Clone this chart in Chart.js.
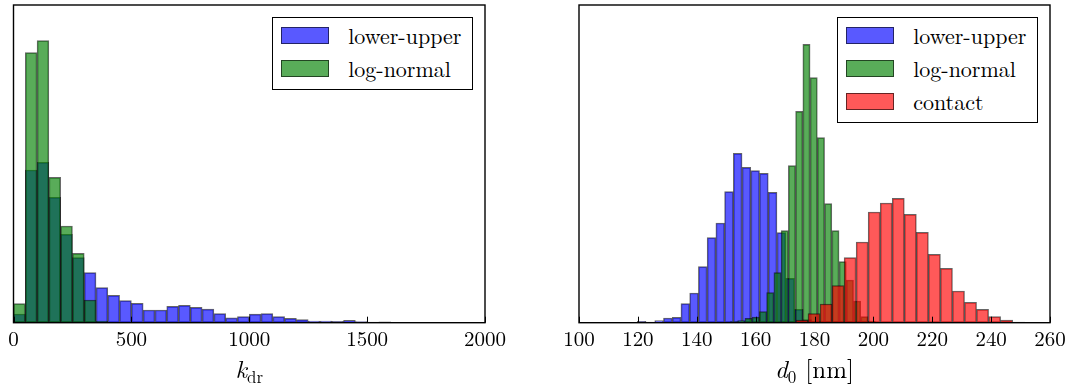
<!DOCTYPE html>
<html>
<head>
<meta charset="utf-8">
<script src="https://cdn.jsdelivr.net/npm/chart.js@4.4.1/dist/chart.umd.min.js"></script>
<style>
  html, body { margin: 0; padding: 0; background: #fff; }
  #wrap { position: relative; width: 1077px; height: 387px; overflow: hidden; }
  canvas { position: absolute; top: 0; }
  .legend { position: absolute; border: 1.3px solid #000; background: #fff; box-sizing: border-box; }
  .patch { position: absolute; box-sizing: border-box; border: 1px solid rgba(0,0,0,0.6); }
  .serif { font-family: "CMU Serif", "Latin Modern Roman", "Liberation Serif", "Tinos", "Times New Roman", "Times", "Nimbus Roman", "Nimbus Roman No9 L", "FreeSerif", "DejaVu Serif", "Noto Serif", "Bitstream Vera Serif", serif; }
  .ltxt { position: absolute; font-size: 22px; line-height: 22px; white-space: nowrap; color: #000; }
  .xtitle { position: absolute; font-size: 25px; line-height: 25px; text-align: center; color: #000; white-space: nowrap; }
  .xtitle i { font-style: italic; }
  .xtitle .sb { font-size: 17px; line-height: 0; vertical-align: -5px; }
</style>
</head>
<body>
<div id="wrap">
  <canvas id="c1" width="540" height="387" style="left:0px"></canvas>
  <canvas id="c2" width="537" height="387" style="left:540px"></canvas>
  <div class="xtitle serif" style="left:13.5px; width:471.5px; top:355px;"><i>k</i><span class="sb">dr</span></div>
  <div class="xtitle serif" style="left:579px; width:471px; top:355px;"><i>d</i><span class="sb">0</span><span style="margin-left:9px">[nm]</span></div>
</div>
<script>
// ---------- Left panel: k_dr histogram (bin width 50) ----------
const kCenters = [25,75,125,175,225,275,325,375,425,475,525,575,625,675,725,775,825,875,925,975,1025,1075,1125,1175,1225,1275,1325,1375,1425,1475,1525,1575,1625];
const kLowerUpper = [8.7,152.7,160.4,125.4,88.4,65,50,35,27.4,22,19.4,12.7,12.7,16.4,17.4,15.4,13.5,9,4.8,6,8.5,9,6,4.3,3,1.6,1.6,1.3,2.3,1,0.6,0.8,0.4];
const kLogNormalCenters = [25,75,125,175,225,275,325,375];
const kLogNormal = [19,270,282,145.4,96.7,69.4,22.7,1.5];
const kTicks = [0,500,1000,1500,2000];

// ---------- Right panel: d0 histogram ----------
const dBlueCenters = [121.28,124.25,127.21,130.18,133.15,136.11,139.08,142.04,145.01,147.98,150.94,153.91,156.87,159.84,162.81,165.77,168.74,171.70,174.67,177.64,180.60];
const dLowerUpper = [1.3,0.7,2,4.7,5.3,19,29.7,56,85,99.7,131,169.4,155.4,152,149.4,130.4,90,44.4,13.4,3,1];
const dGreenCenters = [150.21,152.67,155.13,157.59,160.05,162.51,164.97,167.43,169.89,172.35,174.81,177.27,179.73,182.19,184.65,187.11,189.57,192.03,194.49,196.95,199.41];
const dLogNormal = [0.5,1,2,4.4,5.5,11,30,50,92,157,211.4,278.4,245,185,119,92,61,42.7,21.7,6,1.5];
const dRedCenters = [171.65,175.74,179.83,183.92,188.01,192.10,196.19,200.28,204.37,208.46,212.55,216.64,220.73,224.82,228.91,233.00,237.09,241.18,245.27,249.36];
const dContact = [0.5,2.7,9,18.7,37,65,80.7,110.7,119.7,124.4,108.4,90.4,68.4,54.4,31.7,20.4,13.4,6,2.7,0.7];
const dTicks = [100,120,140,160,180,200,220,240,260];

const labels = ['lower-upper', 'log-normal', 'contact'];
const fills = ['rgba(0,0,255,0.65)', 'rgba(0,128,0,0.65)', 'rgba(255,0,0,0.65)'];
const edge = 'rgba(0,0,0,0.6)';
const YMAX = 317.7;
const FONT = '"CMU Serif", "Latin Modern Roman", "Liberation Serif", "Tinos", "Times New Roman", "Times", "Nimbus Roman", "Nimbus Roman No9 L", "FreeSerif", "DejaVu Serif", "Noto Serif", "Bitstream Vera Serif", serif';

function pts(xs, ys) { return xs.map((x, i) => ({ x: x, y: ys[i] })); }

function ds(i, xs, ys, axisId, order) {
  return {
    label: labels[i], data: pts(xs, ys), xAxisID: axisId, yAxisID: 'y',
    backgroundColor: fills[i], borderColor: edge, borderWidth: 1, borderSkipped: false,
    barPercentage: 1, categoryPercentage: 1, grouped: false, order: order
  };
}

const framePlugin = {
  id: 'frame',
  afterDatasetsDraw(chart) {
    const { ctx, chartArea: a } = chart;
    const xs = chart.scales.x;
    ctx.save();
    ctx.strokeStyle = '#000';
    ctx.lineWidth = 1;
    xs.ticks.forEach(t => {
      const px = Math.round(xs.getPixelForValue(t.value)) + 0.5;
      ctx.beginPath();
      ctx.moveTo(px, a.bottom);
      ctx.lineTo(px, a.bottom - 6);
      ctx.stroke();
    });
    ctx.lineWidth = 1.4;
    ctx.strokeRect(a.left, a.top, a.width, a.height);
    ctx.restore();
  }
};

function visibleX(min, max, ticks) {
  return {
    type: 'linear', position: 'bottom', min: min, max: max, offset: false,
    grid: { display: false, drawTicks: false, offset: false },
    border: { display: false },
    afterBuildTicks: s => { s.ticks = ticks.map(v => ({ value: v })); },
    afterFit: s => { s.height = 387 - 322.7; },
    ticks: { color: '#000', padding: 4, maxRotation: 0, autoSkip: false,
             font: { family: FONT, size: 21 }, callback: v => String(v) }
  };
}
function hiddenX(min, max) {
  return {
    type: 'linear', display: false, min: min, max: max, offset: false,
    grid: { offset: false },
    afterBuildTicks: s => { s.ticks = [{ value: min }, { value: max }]; }
  };
}
const yScale = { type: 'linear', display: false, min: 0, max: YMAX };

function baseOptions(pad, scales) {
  return {
    responsive: false, animation: false, devicePixelRatio: 1,
    layout: { padding: pad },
    plugins: { legend: { display: false }, tooltip: { enabled: false } },
    scales: scales
  };
}

const chart1 = new Chart(document.getElementById('c1'), {
  type: 'bar',
  data: { datasets: [
    ds(0, kCenters, kLowerUpper, 'x', 2),
    ds(1, kLogNormalCenters, kLogNormal, 'x', 1)
  ] },
  options: baseOptions({ left: 13.5, top: 5, right: 55, bottom: 0 },
    { x: visibleX(0, 2000, kTicks), y: yScale }),
  plugins: [framePlugin]
});

const chart2 = new Chart(document.getElementById('c2'), {
  type: 'bar',
  data: { datasets: [
    ds(0, dBlueCenters, dLowerUpper, 'x', 3),
    ds(1, dGreenCenters, dLogNormal, 'x2', 2),
    ds(2, dRedCenters, dContact, 'x3', 1)
  ] },
  options: baseOptions({ left: 39, top: 5, right: 27, bottom: 0 },
    { x: visibleX(100, 260, dTicks), x2: hiddenX(100, 260), x3: hiddenX(100, 260), y: yScale }),
  plugins: [framePlugin]
});

// HTML legends built from the chart datasets
function buildLegend(chart, offsetX) {
  const a = chart.chartArea;
  const n = chart.data.datasets.length;
  const w = 201, h = 7.3 + 33 * n;
  const box = document.createElement('div');
  box.className = 'legend';
  box.style.left = (offsetX + a.right - 12.3 - w) + 'px';
  box.style.top = (a.top + 11.7) + 'px';
  box.style.width = w + 'px';
  box.style.height = h + 'px';
  chart.data.datasets.forEach((d, i) => {
    const p = document.createElement('div');
    p.className = 'patch';
    p.style.left = '8.5px'; p.style.top = (9 + 33 * i) + 'px';
    p.style.width = '48px'; p.style.height = '17px';
    p.style.background = d.backgroundColor;
    box.appendChild(p);
    const t = document.createElement('div');
    t.className = 'ltxt serif';
    t.style.left = '75.5px'; t.style.top = (6.5 + 33 * i) + 'px';
    t.textContent = d.label;
    box.appendChild(t);
  });
  document.getElementById('wrap').appendChild(box);
}
buildLegend(chart1, 0);
buildLegend(chart2, 540);
</script>
</body>
</html>
